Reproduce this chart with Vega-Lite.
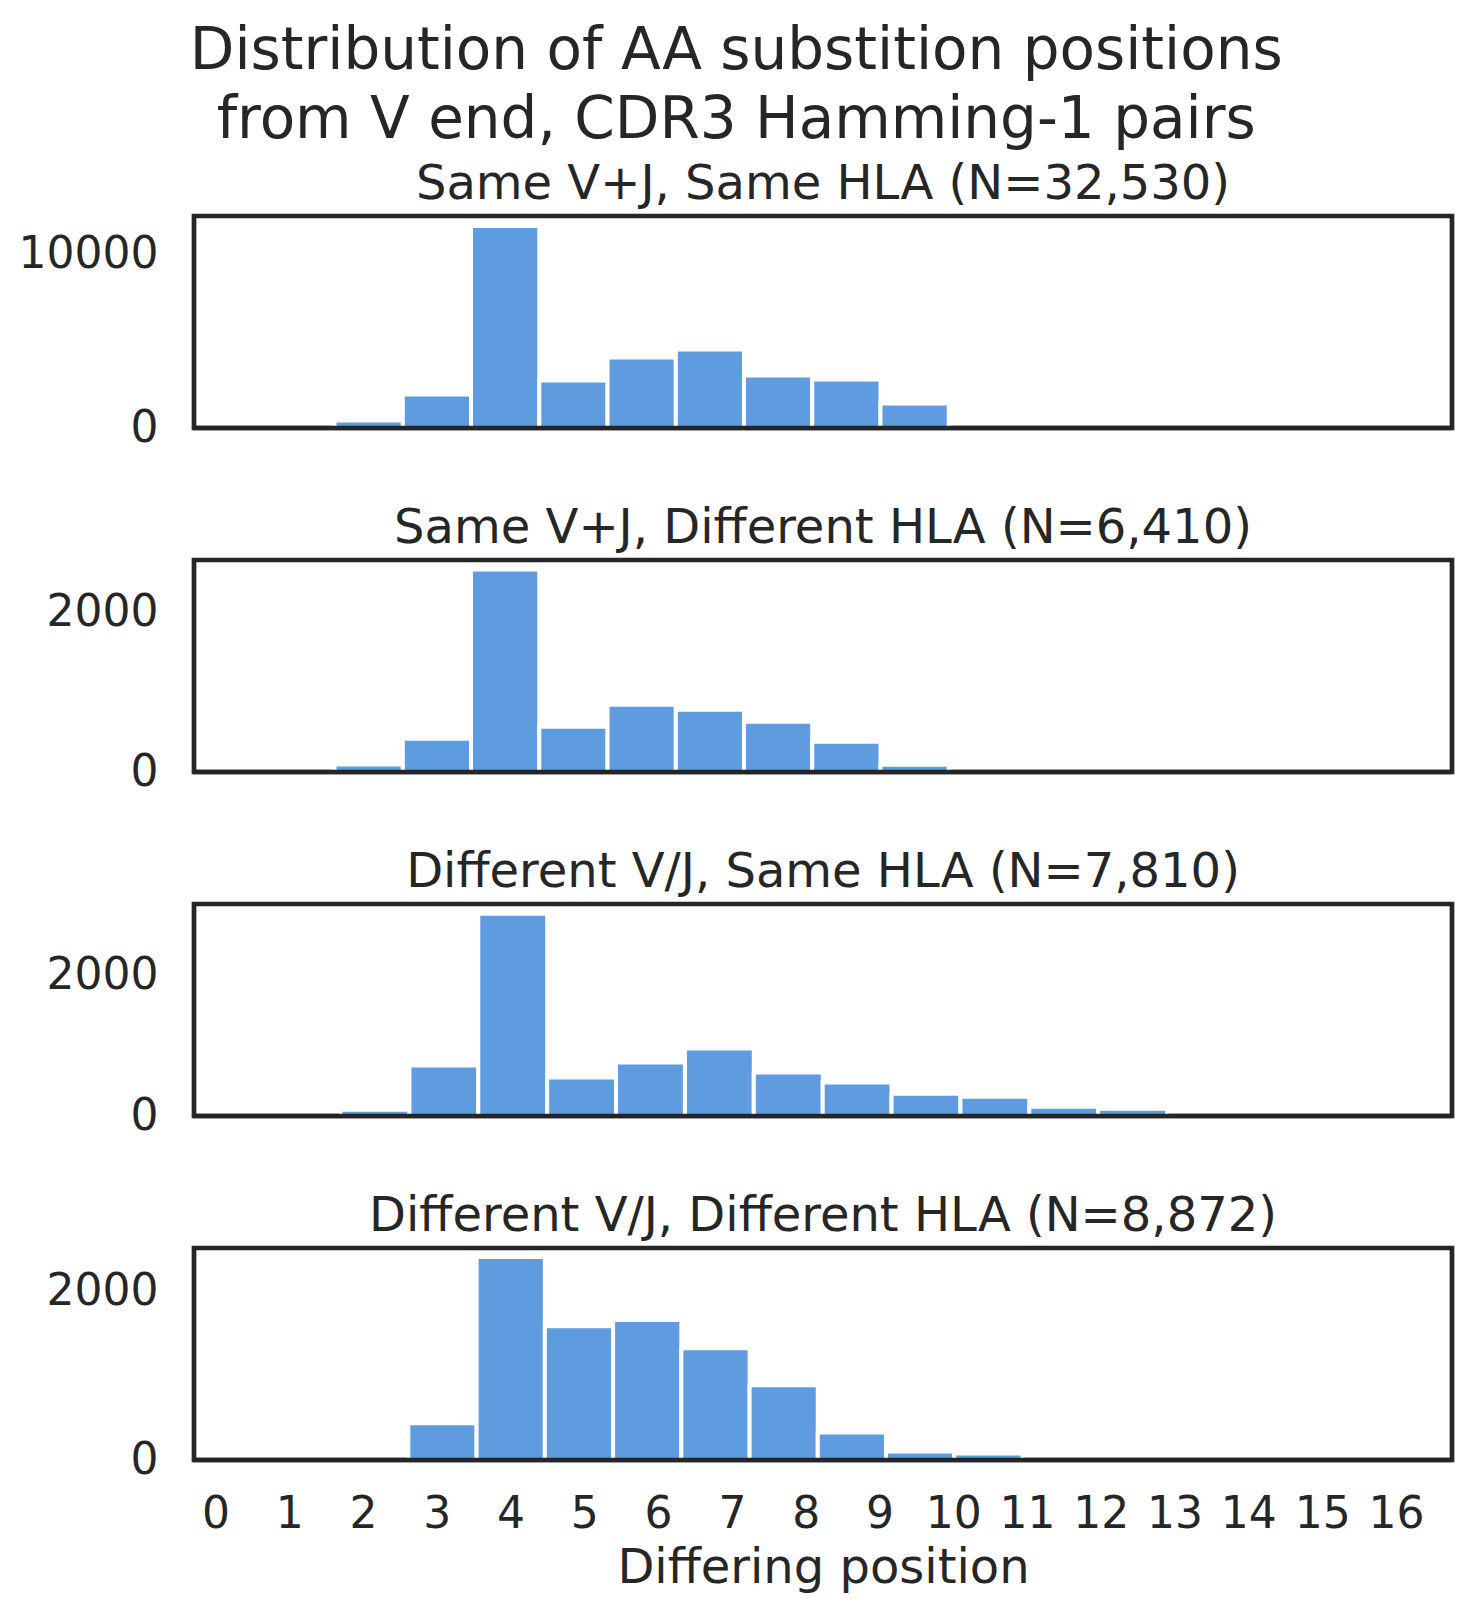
{
  "$schema": "https://vega.github.io/schema/vega-lite/v6.json",
  "background": "white",
  "padding": {"left": 15, "top": 22, "right": 5, "bottom": 5},
  "title": {
    "text": ["Distribution of AA substition positions", "from V end, CDR3 Hamming-1 pairs"],
    "fontSize": 58, "fontWeight": "normal", "font": "DejaVu Sans", "color": "#262626",
    "lineHeight": 69, "anchor": "middle", "offset": 9
  },
  "config": {
    "font": "DejaVu Sans",
    "view": {"stroke": "#262626", "strokeWidth": 4.7},
    "axis": {"grid": false, "ticks": false, "tickSize": 0, "domain": false, "labelColor": "#262626", "titleColor": "#262626", "labelFont": "DejaVu Sans", "titleFont": "DejaVu Sans", "labelFontSize": 44, "titleFontSize": 48, "titleFontWeight": "normal", "format": "d"},
    "title": {"fontSize": 48, "fontWeight": "normal", "color": "#262626", "font": "DejaVu Sans", "anchor": "middle", "offset": 7}
  },
  "data": {"values": [
    {"panel": 1, "start": 1.615, "end": 2.540, "count": 430},
    {"panel": 1, "start": 2.540, "end": 3.465, "count": 1927},
    {"panel": 1, "start": 3.465, "end": 4.390, "count": 11630},
    {"panel": 1, "start": 4.390, "end": 5.315, "count": 2733},
    {"panel": 1, "start": 5.315, "end": 6.240, "count": 4056},
    {"panel": 1, "start": 6.240, "end": 7.164, "count": 4517},
    {"panel": 1, "start": 7.164, "end": 8.089, "count": 3021},
    {"panel": 1, "start": 8.089, "end": 9.014, "count": 2790},
    {"panel": 1, "start": 9.014, "end": 9.939, "count": 1410},
    {"panel": 2, "start": 1.615, "end": 2.540, "count": 95},
    {"panel": 2, "start": 2.540, "end": 3.465, "count": 418},
    {"panel": 2, "start": 3.465, "end": 4.390, "count": 2540},
    {"panel": 2, "start": 4.390, "end": 5.315, "count": 569},
    {"panel": 2, "start": 5.315, "end": 6.240, "count": 845},
    {"panel": 2, "start": 6.240, "end": 7.164, "count": 782},
    {"panel": 2, "start": 7.164, "end": 8.089, "count": 632},
    {"panel": 2, "start": 8.089, "end": 9.014, "count": 380},
    {"panel": 2, "start": 9.014, "end": 9.939, "count": 90},
    {"panel": 3, "start": 1.696, "end": 2.630, "count": 89},
    {"panel": 3, "start": 2.630, "end": 3.563, "count": 715},
    {"panel": 3, "start": 3.563, "end": 4.497, "count": 2870},
    {"panel": 3, "start": 4.497, "end": 5.430, "count": 545},
    {"panel": 3, "start": 5.430, "end": 6.364, "count": 758},
    {"panel": 3, "start": 6.364, "end": 7.297, "count": 957},
    {"panel": 3, "start": 7.297, "end": 8.231, "count": 616},
    {"panel": 3, "start": 8.231, "end": 9.164, "count": 474},
    {"panel": 3, "start": 9.164, "end": 10.098, "count": 317},
    {"panel": 3, "start": 10.098, "end": 11.031, "count": 274},
    {"panel": 3, "start": 11.031, "end": 11.965, "count": 132},
    {"panel": 3, "start": 11.965, "end": 12.898, "count": 104},
    {"panel": 4, "start": 2.615, "end": 3.540, "count": 436},
    {"panel": 4, "start": 3.540, "end": 4.465, "count": 2417},
    {"panel": 4, "start": 4.465, "end": 5.390, "count": 1593},
    {"panel": 4, "start": 5.390, "end": 6.315, "count": 1665},
    {"panel": 4, "start": 6.315, "end": 7.240, "count": 1331},
    {"panel": 4, "start": 7.240, "end": 8.164, "count": 889},
    {"panel": 4, "start": 8.164, "end": 9.089, "count": 328},
    {"panel": 4, "start": 9.089, "end": 10.014, "count": 102},
    {"panel": 4, "start": 10.014, "end": 10.939, "count": 78}
  ]},
  "bounds": "flush",
  "spacing": 132,
  "vconcat": [
    {
      "title": "Same V+J, Same HLA (N=32,530)",
      "width": 1258, "height": 212,
      "layer": [
        {
          "transform": [{"filter": "datum.panel == 1"}],
          "mark": {"type": "rect", "color": "#5f9bdf", "stroke": "white", "strokeWidth": 4},
          "encoding": {
            "x": {"field": "start", "type": "quantitative", "scale": {"domain": [-0.29, 16.76], "nice": false, "zero": false}, "axis": null},
            "x2": {"field": "end"},
            "y": {"field": "count", "type": "quantitative", "scale": {"domain": [0, 12200], "nice": false}, "axis": {"values": [0, 10000], "title": null, "labelPadding": 36}},
            "y2": {"datum": 0}
          }
        },
        {
          "data": {"values": [{"base": 0}]},
          "mark": {"type": "rule", "color": "#262626", "strokeWidth": 4.7},
          "encoding": {"y": {"field": "base", "type": "quantitative"}}
        }
      ]
    },
    {
      "title": "Same V+J, Different HLA (N=6,410)",
      "width": 1258, "height": 212,
      "layer": [
        {
          "transform": [{"filter": "datum.panel == 2"}],
          "mark": {"type": "rect", "color": "#5f9bdf", "stroke": "white", "strokeWidth": 4},
          "encoding": {
            "x": {"field": "start", "type": "quantitative", "scale": {"domain": [-0.29, 16.76], "nice": false, "zero": false}, "axis": null},
            "x2": {"field": "end"},
            "y": {"field": "count", "type": "quantitative", "scale": {"domain": [0, 2660], "nice": false}, "axis": {"values": [0, 2000], "title": null, "labelPadding": 36}},
            "y2": {"datum": 0}
          }
        },
        {
          "data": {"values": [{"base": 0}]},
          "mark": {"type": "rule", "color": "#262626", "strokeWidth": 4.7},
          "encoding": {"y": {"field": "base", "type": "quantitative"}}
        }
      ]
    },
    {
      "title": "Different V/J, Same HLA (N=7,810)",
      "width": 1258, "height": 212,
      "layer": [
        {
          "transform": [{"filter": "datum.panel == 3"}],
          "mark": {"type": "rect", "color": "#5f9bdf", "stroke": "white", "strokeWidth": 4},
          "encoding": {
            "x": {"field": "start", "type": "quantitative", "scale": {"domain": [-0.29, 16.76], "nice": false, "zero": false}, "axis": null},
            "x2": {"field": "end"},
            "y": {"field": "count", "type": "quantitative", "scale": {"domain": [0, 3008], "nice": false}, "axis": {"values": [0, 2000], "title": null, "labelPadding": 36}},
            "y2": {"datum": 0}
          }
        },
        {
          "data": {"values": [{"base": 0}]},
          "mark": {"type": "rule", "color": "#262626", "strokeWidth": 4.7},
          "encoding": {"y": {"field": "base", "type": "quantitative"}}
        }
      ]
    },
    {
      "title": "Different V/J, Different HLA (N=8,872)",
      "width": 1258, "height": 212,
      "layer": [
        {
          "transform": [{"filter": "datum.panel == 4"}],
          "mark": {"type": "rect", "color": "#5f9bdf", "stroke": "white", "strokeWidth": 4},
          "encoding": {
            "x": {"field": "start", "type": "quantitative", "scale": {"domain": [-0.29, 16.76], "nice": false, "zero": false},
                  "axis": {"values": [0,1,2,3,4,5,6,7,8,9,10,11,12,13,14,15,16], "title": "Differing position", "labelPadding": 32, "titlePadding": 8, "labelFlush": false}},
            "x2": {"field": "end"},
            "y": {"field": "count", "type": "quantitative", "scale": {"domain": [0, 2523], "nice": false}, "axis": {"values": [0, 2000], "title": null, "labelPadding": 36}},
            "y2": {"datum": 0}
          }
        },
        {
          "data": {"values": [{"base": 0}]},
          "mark": {"type": "rule", "color": "#262626", "strokeWidth": 4.7},
          "encoding": {"y": {"field": "base", "type": "quantitative"}}
        }
      ]
    }
  ]
}
